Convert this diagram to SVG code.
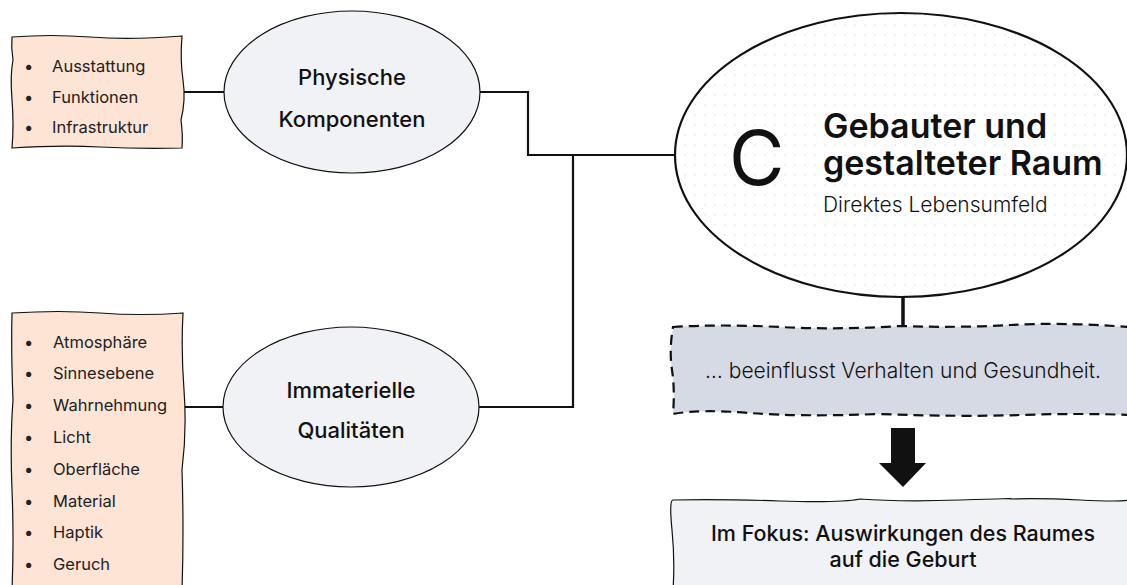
<svg xmlns="http://www.w3.org/2000/svg" width="1127" height="585" viewBox="0 0 1127 585">
<style>
text{font-family:Inter,"Liberation Sans",sans-serif;fill:#111}
.li{font-size:16.5px;font-weight:400;fill:#222}
.el{font-size:22px;font-weight:500;text-anchor:middle}
.conn{fill:none;stroke:#111;stroke-width:2.2}
.list{fill:#fde4d4;stroke:#111;stroke-width:1.2}
.sm{fill:#f1f2f6;stroke:#111;stroke-width:1.2}
</style>
<defs>
<pattern id="dots" width="10" height="10" patternUnits="userSpaceOnUse">
<rect x="4.5" y="4.5" width="1" height="1" fill="#c2c8da"/>
</pattern>
</defs>
<rect width="1127" height="585" fill="#fff"/>
<g id="connectors">
<path class="conn" d="M182 92 H224"/>
<path class="conn" d="M480 92 H528 V155 H674"/>
<path class="conn" d="M573 155 V407 H479"/>
<path class="conn" d="M183 407 H223"/>
<path d="M903 296 V328" fill="none" stroke="#111" stroke-width="3.5"/>
<polygon points="891,428 915,428 915,463 926,463 903,487 879,463 891,463" fill="#111"/>
</g>
<g id="list-physisch">
<path class="list" d="M12 37 Q50 34 90 37 T182 36 Q180 60 183 80 T181 120 Q183 135 182 148 Q140 149 100 147 T12 148 Q14 125 12 100 T13 60 Q11 48 12 37 Z"/>
<text class="li" x="24" y="72">•</text><text class="li" x="52" y="72">Ausstattung</text>
<text class="li" x="24" y="103">•</text><text class="li" x="52" y="103">Funktionen</text>
<text class="li" x="24" y="133">•</text><text class="li" x="52" y="133">Infrastruktur</text>
</g>
<g id="list-immateriell">
<path class="list" d="M12 313 Q60 310 100 313 T183 313 Q181 350 184 390 T182 470 Q184 530 182 590 L12 590 Q14 540 12 490 T13 400 Q11 350 12 313 Z"/>
<text class="li" x="24" y="348">•</text><text class="li" x="53" y="348">Atmosphäre</text>
<text class="li" x="24" y="379">•</text><text class="li" x="53" y="379">Sinnesebene</text>
<text class="li" x="24" y="411">•</text><text class="li" x="53" y="411">Wahrnehmung</text>
<text class="li" x="24" y="443">•</text><text class="li" x="53" y="443">Licht</text>
<text class="li" x="24" y="475">•</text><text class="li" x="53" y="475">Oberfläche</text>
<text class="li" x="24" y="507">•</text><text class="li" x="53" y="507">Material</text>
<text class="li" x="24" y="538">•</text><text class="li" x="53" y="538">Haptik</text>
<text class="li" x="24" y="570">•</text><text class="li" x="53" y="570">Geruch</text>
</g>
<g id="physische-komponenten">
<ellipse class="sm" cx="352" cy="92" rx="128" ry="81"/>
<text class="el" x="352" y="85">Physische</text>
<text class="el" x="352" y="127">Komponenten</text>
</g>
<g id="immaterielle-qualitaeten">
<ellipse class="sm" cx="351" cy="407" rx="128" ry="80"/>
<text class="el" x="351" y="398">Immaterielle</text>
<text class="el" x="351" y="438">Qualitäten</text>
</g>
<g id="raum">
<ellipse cx="901" cy="155" rx="226" ry="142" fill="#fff"/>
<ellipse cx="901" cy="155" rx="226" ry="142" fill="url(#dots)" stroke="#111" stroke-width="2.2"/>
<text x="729" y="185" style="font-size:76px;font-weight:400">C</text>
<text x="823" y="138" style="font-size:34px;font-weight:600">Gebauter und</text>
<text x="823" y="175" style="font-size:34px;font-weight:600">gestalteter Raum</text>
<text x="823" y="212" style="font-size:21px;font-weight:300">Direktes Lebensumfeld</text>
</g>
<g id="verhalten">
<path d="M673 327 Q720 324 780 327 T900 326 Q960 328 1010 325 T1130 327 L1130 415 Q1080 413 1020 415 T880 414 Q800 417 750 413 T673 414 Q675 390 672 370 T673 327 Z" fill="#d5dae4" stroke="#111" stroke-width="2.2" stroke-dasharray="10 6"/>
<text x="903" y="378" style="font-size:21px;font-weight:300;text-anchor:middle">… beeinflusst Verhalten und Gesundheit.</text>
</g>
<g id="fokus">
<path d="M673 500 Q720 499 780 501 T860 499 Q900 502 960 500 T1010 499 Q1040 498 1080 500 T1130 500 L1130 590 L673 590 Q675 560 672 530 T673 500 Z" fill="#f1f2f6" stroke="#111" stroke-width="1.2"/>
<text x="903" y="541" style="font-size:21.5px;font-weight:500;text-anchor:middle">Im Fokus: Auswirkungen des Raumes</text>
<text x="903" y="567" style="font-size:21.5px;font-weight:500;text-anchor:middle">auf die Geburt</text>
</g>
</svg>
